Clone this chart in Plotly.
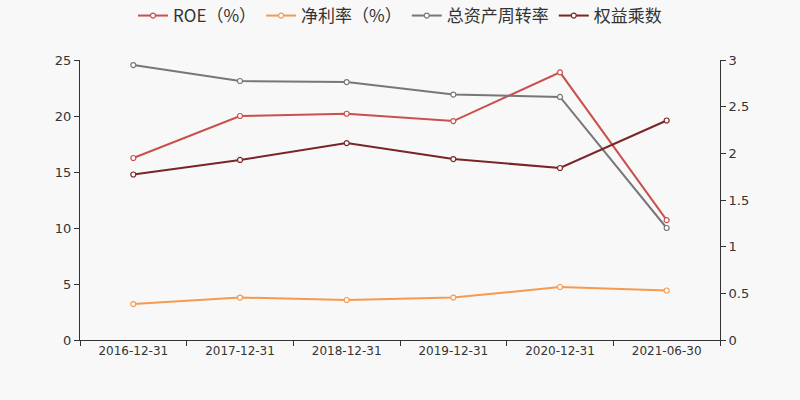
import plotly.graph_objects as go

categories = ["2016-12-31", "2017-12-31", "2018-12-31", "2019-12-31", "2020-12-31", "2021-06-30"]
roe = [16.25, 20.0, 20.2, 19.55, 23.9, 10.7]
net_margin = [3.21, 3.79, 3.57, 3.79, 4.73, 4.42]
turnover = [2.946, 2.775, 2.764, 2.63, 2.604, 1.2]
equity_mult = [1.773, 1.929, 2.11, 1.939, 1.843, 2.352]

names = ["ROE（%）", "净利率（%）", "总资产周转率", "权益乘数"]
colors = ["#c9504c", "#f59a4f", "#777777", "#7a2426"]

fig = go.Figure()
series = [(roe, "y"), (net_margin, "y"), (turnover, "y2"), (equity_mult, "y2")]
for (vals, ax), name, col in zip(series, names, colors):
    fig.add_trace(go.Scatter(
        x=categories, y=vals, name=name, yaxis=ax, mode="lines+markers",
        line=dict(color=col, width=2),
        marker=dict(symbol="circle", size=5, color="white", line=dict(color=col, width=1.2)),
    ))

fig.update_layout(
    width=800, height=400,
    paper_bgcolor="#f8f8f8", plot_bgcolor="#f8f8f8",
    margin=dict(l=80, r=80, t=60, b=60),
    font=dict(family="DejaVu Sans, Noto Sans CJK SC", color="#333333", size=12),
    showlegend=True,
    legend=dict(orientation="h", x=0.5, xanchor="center", y=1.0, yanchor="bottom", yref="container",
                font=dict(size=17, family="Noto Sans CJK SC, DejaVu Sans", color="#333333"),
                itemwidth=30, bgcolor="rgba(0,0,0,0)", tracegroupgap=0),
    xaxis=dict(type="category", showgrid=False, showline=True, linecolor="#333333", linewidth=1,
               ticks="outside", ticklen=5, tickcolor="#333333", tickson="boundaries",
               tickfont=dict(size=12), range=[-0.5, 5.5], zeroline=False),
    yaxis=dict(range=[0, 25], dtick=5, showgrid=False, showline=True, linecolor="#333333", linewidth=1,
               ticks="outside", ticklen=5, tickcolor="#333333", tickfont=dict(size=13), zeroline=False),
    yaxis2=dict(range=[0, 3], dtick=0.5, overlaying="y", side="right", showgrid=False, showline=True,
                linecolor="#333333", linewidth=1, ticks="outside", ticklen=5, tickcolor="#333333",
                tickfont=dict(size=13), zeroline=False),
)
fig.update_layout(legend=dict(y=0.915, yref="container", yanchor="bottom"))

fig.write_html("out.html")
